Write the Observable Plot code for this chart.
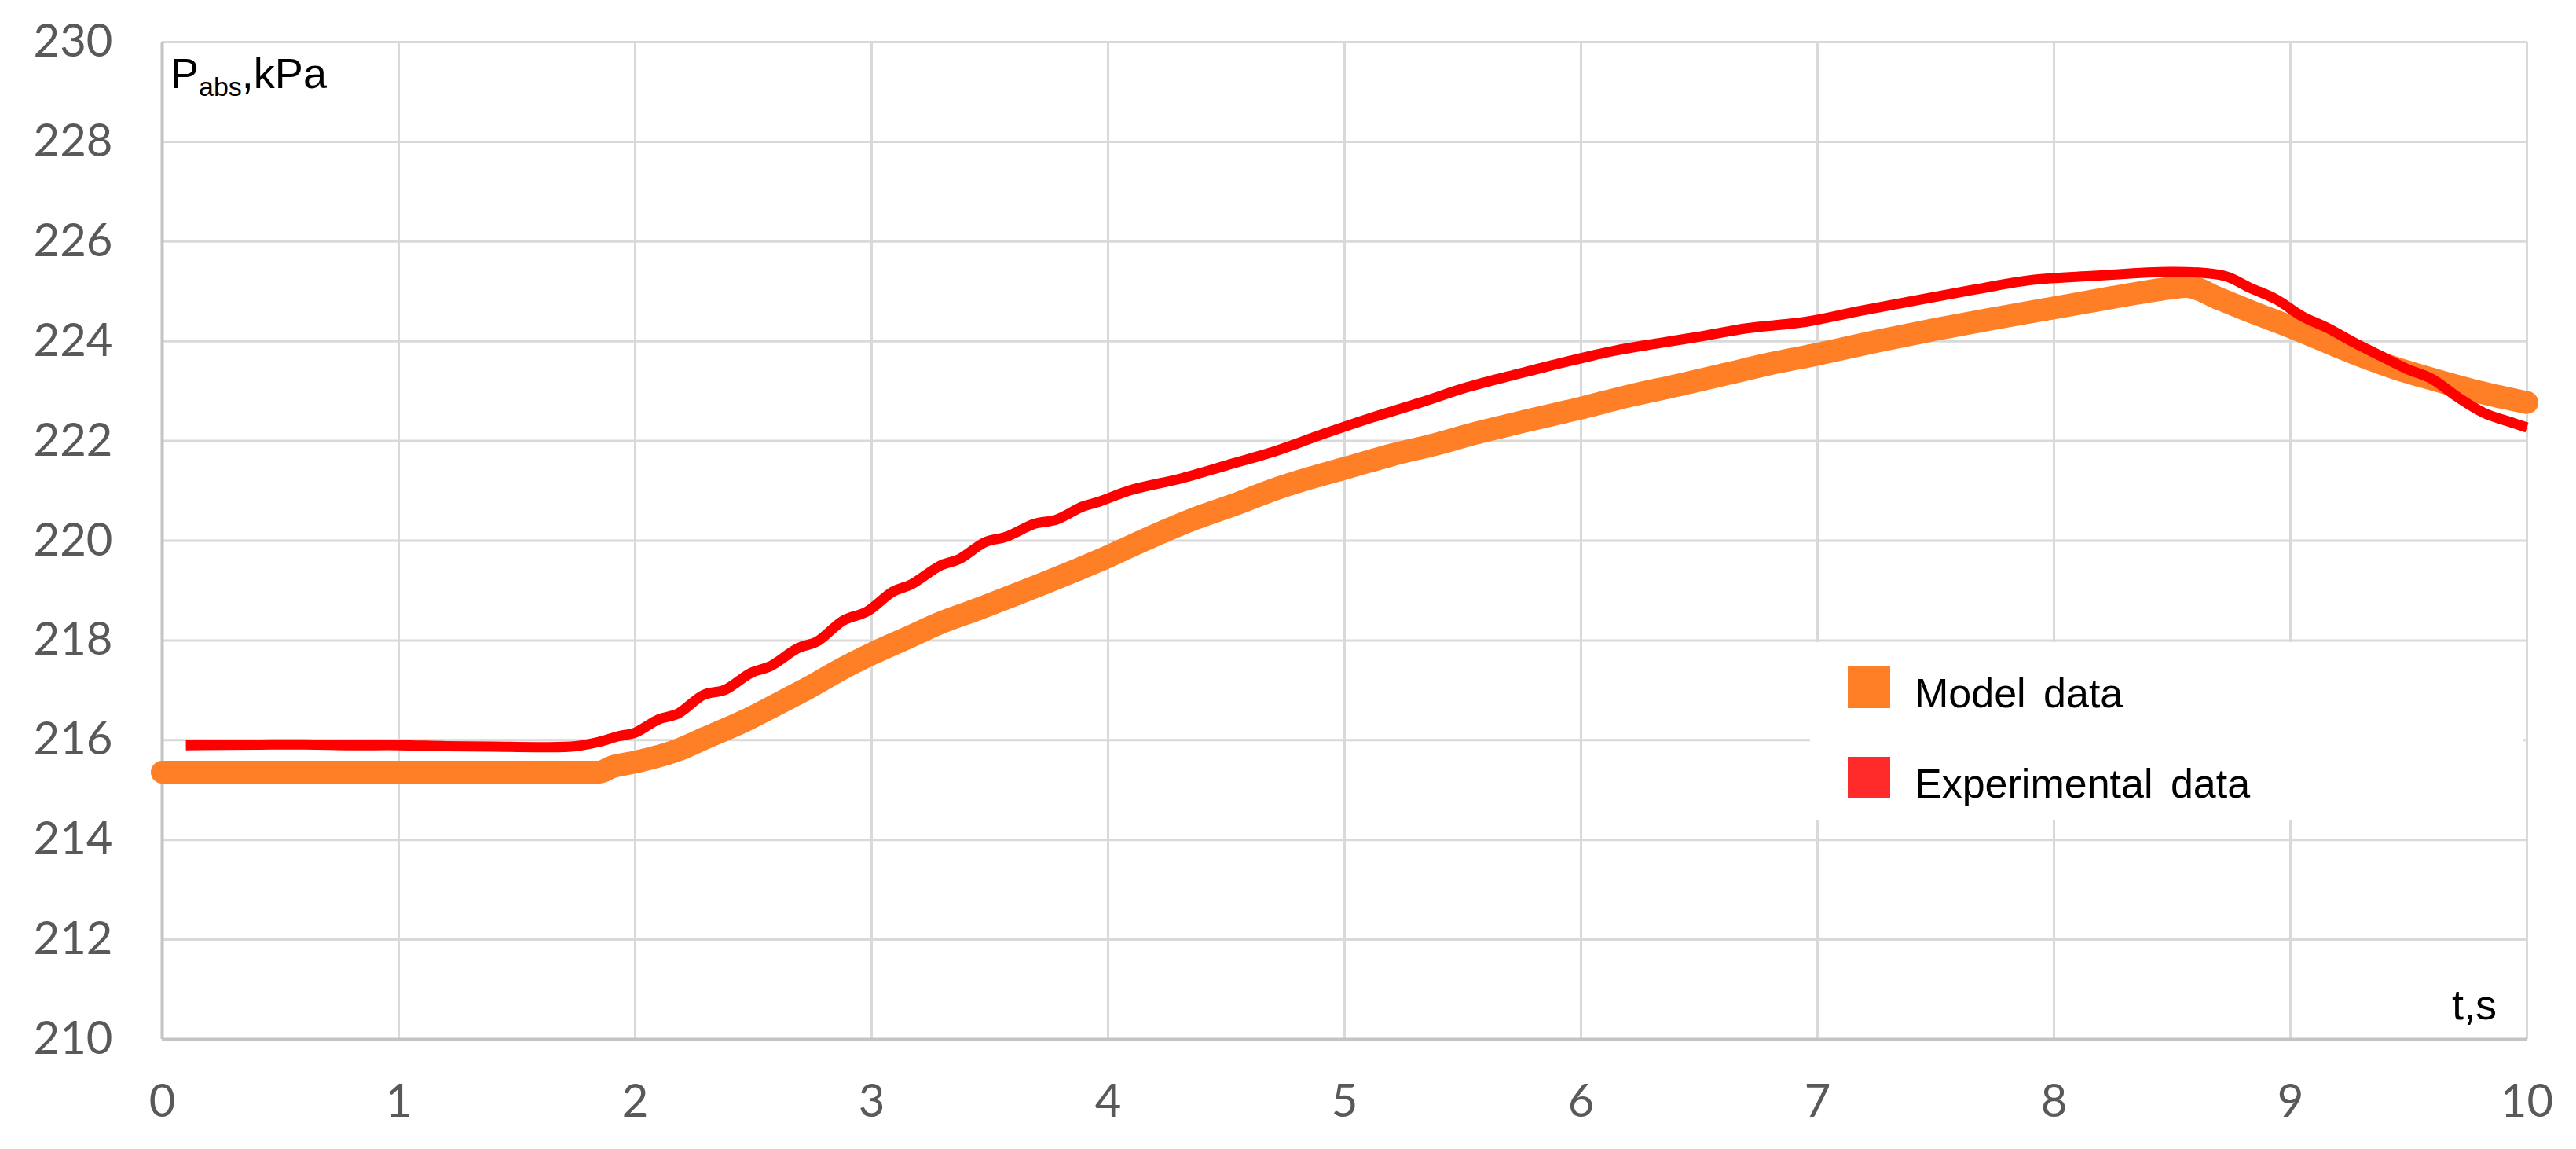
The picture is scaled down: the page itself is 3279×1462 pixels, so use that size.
<!DOCTYPE html>
<html>
<head>
<meta charset="utf-8">
<script src="https://cdn.jsdelivr.net/npm/d3@7"></script>
<script src="https://cdn.jsdelivr.net/npm/@observablehq/plot@0.6"></script>
<style>
  html, body { margin: 0; padding: 0; background: #ffffff; }
  #chart { position: relative; width: 3279px; height: 1462px; }
</style>
</head>
<body>
<div id="chart"></div>
<script>
// ---- Data ----
const modelT = [0, 0.5, 1.0, 1.5, 1.85, 1.9, 2.0, 2.18, 2.3, 2.46, 2.6, 2.74, 2.87, 3.0, 3.15, 3.3, 3.45, 3.58, 3.72, 3.86, 4.0, 4.1, 4.36, 4.55, 4.71, 4.85, 5.0, 5.2, 5.39, 5.55, 5.73, 6.0, 6.2, 6.41, 6.62, 6.8, 7.0, 7.25, 7.5, 7.75, 8.0, 8.25, 8.5, 8.56, 8.7, 8.83, 9.0, 9.27, 9.45, 9.6, 9.8, 10.0];
const modelP = [215.36, 215.36, 215.36, 215.36, 215.36, 215.46, 215.56, 215.80, 216.05, 216.38, 216.72, 217.07, 217.42, 217.73, 218.05, 218.37, 218.63, 218.87, 219.13, 219.40, 219.68, 219.90, 220.43, 220.75, 221.04, 221.25, 221.45, 221.72, 221.94, 222.15, 222.36, 222.66, 222.90, 223.12, 223.35, 223.55, 223.74, 224.00, 224.24, 224.46, 224.67, 224.88, 225.07, 225.10, 224.85, 224.60, 224.29, 223.76, 223.45, 223.24, 222.98, 222.77];

const expT = [0.1, 0.4, 0.6, 0.8, 1.0, 1.2, 1.4, 1.6, 1.75, 1.85, 1.93, 2.0, 2.1, 2.18, 2.29, 2.38, 2.49, 2.57, 2.69, 2.77, 2.88, 2.98, 3.09, 3.17, 3.29, 3.37, 3.48, 3.57, 3.69, 3.78, 3.89, 3.96, 4.10, 4.31, 4.50, 4.71, 4.91, 5.11, 5.32, 5.52, 5.73, 5.93, 6.14, 6.34, 6.51, 6.70, 6.95, 7.17, 7.44, 7.68, 7.91, 8.17, 8.50, 8.72, 8.83, 8.94, 9.05, 9.16, 9.27, 9.38, 9.49, 9.60, 9.71, 9.82, 9.93, 10.0];
const expP = [215.90, 215.91, 215.915, 215.90, 215.90, 215.88, 215.87, 215.86, 215.88, 215.97, 216.08, 216.15, 216.42, 216.53, 216.91, 217.01, 217.35, 217.48, 217.85, 217.98, 218.40, 218.58, 218.98, 219.13, 219.50, 219.63, 219.97, 220.08, 220.34, 220.42, 220.68, 220.78, 221.02, 221.25, 221.51, 221.80, 222.14, 222.46, 222.77, 223.08, 223.34, 223.58, 223.81, 223.97, 224.10, 224.26, 224.39, 224.60, 224.84, 225.05, 225.23, 225.31, 225.39, 225.31, 225.07, 224.84, 224.50, 224.26, 223.97, 223.71, 223.45, 223.24, 222.87, 222.56, 222.38, 222.27];

const xTicks = [0, 1, 2, 3, 4, 5, 6, 7, 8, 9, 10];
const yTicks = [210, 212, 214, 216, 218, 220, 222, 224, 226, 228, 230];

const seriesNames = ["Model data", "Experimental data"];
const seriesColors = ["#FF7F27", "#FF0000"];
const legendSwatch = ["#FF7F27", "#FF2A2A"];

const model = modelT.map((t, i) => ({t, p: modelP[i]}));
const exp = expT.map((t, i) => ({t, p: expP[i]}));

const W = 3279, H = 1462;

const plot = Plot.plot({
  width: W,
  height: H,
  marginLeft: 206,
  marginRight: 63,
  marginTop: 53,
  marginBottom: 140,
  style: {fontFamily: "Lato, 'Open Sans', sans-serif", background: "#ffffff", color: "#595959"},
  x: {domain: [0, 10]},
  y: {domain: [210, 230]},
  marks: [
    Plot.gridX(xTicks, {stroke: "#D9D9D9", strokeOpacity: 1, strokeWidth: 3}),
    Plot.gridY(yTicks, {stroke: "#D9D9D9", strokeOpacity: 1, strokeWidth: 3}),
    Plot.ruleX([0], {stroke: "#C4C4C4", strokeWidth: 4}),
    Plot.ruleY([210], {stroke: "#C4C4C4", strokeWidth: 4}),
    Plot.axisX(xTicks, {tickSize: 0, tickPadding: 57, fontSize: 58, fill: "#595959", tickFormat: d => String(d), label: null}),
    Plot.axisY(yTicks, {tickSize: 0, tickPadding: 63, fontSize: 58, fill: "#595959", tickFormat: d => String(d), label: null}),
    Plot.line(model, {x: "t", y: "p", stroke: seriesColors[0], strokeWidth: 29, strokeLinecap: "round", strokeLinejoin: "round", curve: "monotone-x"}),
    Plot.line(exp, {x: "t", y: "p", stroke: seriesColors[1], strokeWidth: 13, strokeLinecap: "butt", strokeLinejoin: "round", curve: "catmull-rom"})
  ]
});

document.getElementById("chart").appendChild(plot);

const svg = d3.select(plot);
const sx = plot.scale("x"), sy = plot.scale("y");
const x0 = sx.apply(0), x10 = sx.apply(10);
const yTop = sy.apply(230), yBot = sy.apply(210);

// Legend (white box hides the grid behind it)
const lg = svg.append("g")
  .attr("font-family", "'Liberation Sans', Arial, sans-serif")
  .attr("text-anchor", "start");
lg.append("rect")
  .attr("x", 2304).attr("y", 817).attr("width", x10 - 2304 - 4).attr("height", 226)
  .attr("fill", "#ffffff");
seriesNames.forEach((name, i) => {
  const top = 848 + i * 115;
  lg.append("rect").attr("x", 2352).attr("y", top).attr("width", 54).attr("height", 53).attr("fill", legendSwatch[i]);
  lg.append("text").attr("x", 2437).attr("y", top + 52)
    .attr("text-anchor", "start")
    .attr("font-size", 52).attr("fill", "#000000").attr("word-spacing", 8).text(name);
});

// Axis titles
const yt = svg.append("text")
  .attr("x", x0 + 11).attr("y", yTop + 59)
  .attr("text-anchor", "start")
  .attr("font-family", "'Liberation Sans', Arial, sans-serif")
  .attr("font-size", 54).attr("fill", "#000000");
yt.append("tspan").text("P");
yt.append("tspan").attr("font-size", 34).attr("dy", 10).text("abs");
yt.append("tspan").attr("dy", -10).text(",kPa");

svg.append("text")
  .attr("x", x10 - 38).attr("y", yBot - 25)
  .attr("text-anchor", "end")
  .attr("font-family", "'Liberation Sans', Arial, sans-serif")
  .attr("font-size", 54).attr("fill", "#000000")
  .text("t,s");
</script>
</body>
</html>
